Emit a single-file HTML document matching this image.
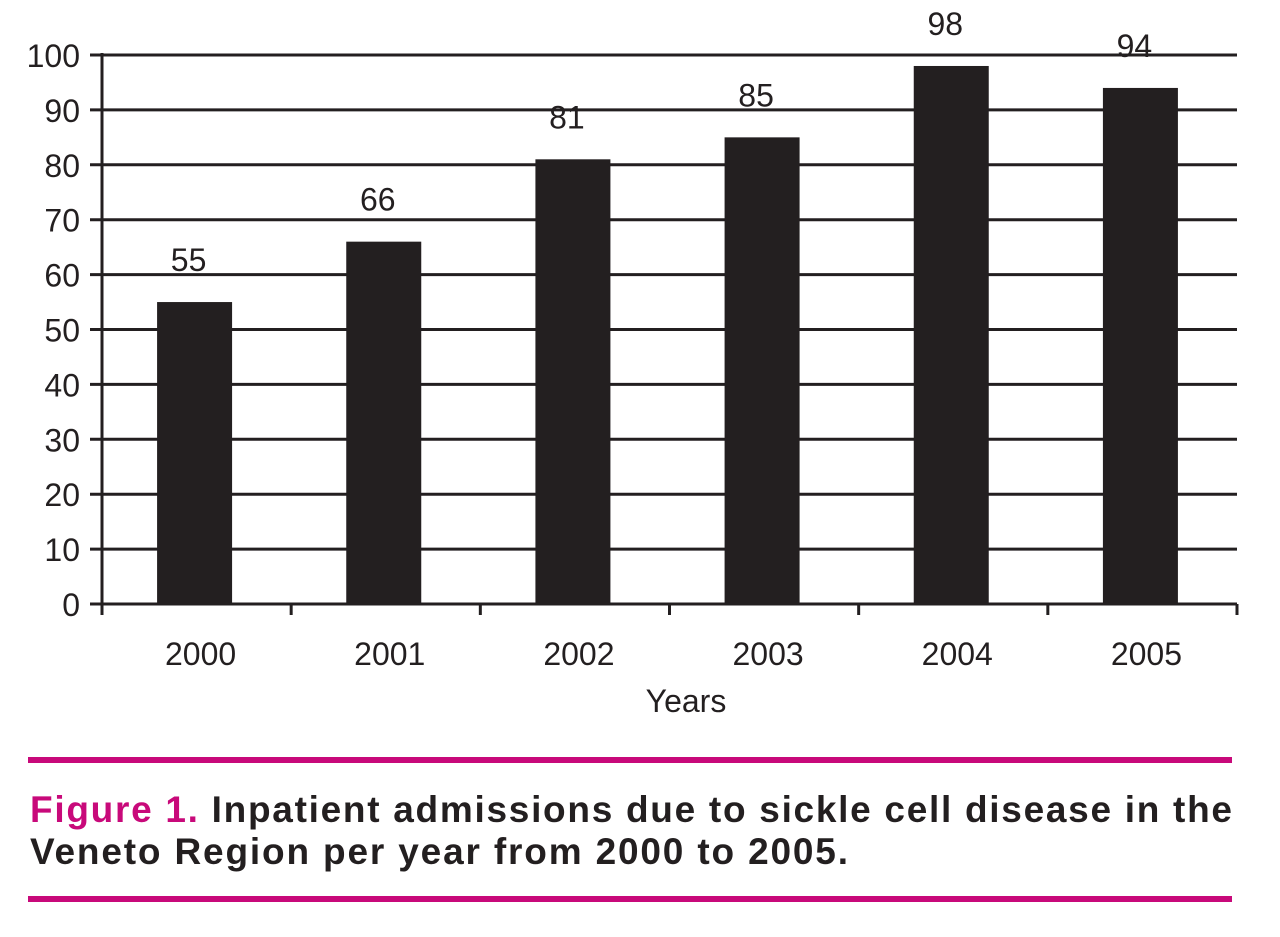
<!DOCTYPE html>
<html><head><meta charset="utf-8"><style>
html,body{margin:0;padding:0;background:#fff;}
svg{display:block;}
text{font-family:"Liberation Sans Narrow","Liberation Sans",sans-serif;fill:#231f20;}
.cap{font-family:"Liberation Sans",sans-serif;font-weight:bold;font-size:37px;}
</style></head><body>
<svg id="chart" width="1280" height="937" viewBox="0 0 1280 937" xmlns="http://www.w3.org/2000/svg">
<g id="grid"></g><g id="bars"></g><g id="axes"></g>
<rect x="28" y="757" width="1204" height="6" fill="#c8097a"/>
<text class="cap" x="30" y="822" textLength="1202" lengthAdjust="spacing"><tspan fill="#c8097a" style="fill:#c8097a">Figure 1.</tspan> Inpatient admissions due to sickle cell disease in the</text>
<text class="cap" x="30" y="864" textLength="818" lengthAdjust="spacing">Veneto Region per year from 2000 to 2005.</text>
<rect x="28" y="896" width="1204" height="6" fill="#c8097a"/>
</svg>
<script>
const categories = ["2000","2001","2002","2003","2004","2005"];
const values = [55,66,81,85,98,94];
const yTicks = [0,10,20,30,40,50,60,70,80,90,100];
const NS="http://www.w3.org/2000/svg";
const x0=102,x1=1237,y0=604,y100=55;
const yS=v=>y0-(v/100)*(y0-y100);
const bw=(x1-x0)/categories.length;
const xC=i=>x0+bw*(i+0.5);
function mk(t,a,p){const e=document.createElementNS(NS,t);for(const k in a)e.setAttribute(k,a[k]);p.appendChild(e);return e;}
const grid=document.getElementById('grid'),bars=document.getElementById('bars'),axes=document.getElementById('axes');
yTicks.forEach(v=>{
  const l=mk('line',{x1:90,x2:x1,y1:yS(v),y2:yS(v),stroke:'#231f20','stroke-width':3},grid);
  
  
  const t=mk('text',{x:80,y:yS(v)+12,'text-anchor':'end','font-size':32},axes);
  t.textContent=v;
  
  
});
categories.forEach((c,i)=>{
  const r=mk('rect',{x:xC(i)-39.5,y:yS(values[i]),width:75,height:y0-yS(values[i]),fill:'#231f20'},bars);
  
  
  const vl=mk('text',{x:xC(i)-8,y:yS(values[i])-31,'text-anchor':'middle','font-size':32},bars);
  vl.textContent=values[i];
  
  
  const xl=mk('text',{x:xC(i)+4,y:665,'text-anchor':'middle','font-size':32},axes);
  xl.textContent=c;
  
  
});
for(let i=0;i<=categories.length;i++){
  const tk=mk('line',{x1:x0+bw*i,x2:x0+bw*i,y1:y0,y2:615,stroke:'#231f20','stroke-width':3},axes);
  
  
}
const ya=mk('line',{x1:x0,x2:x0,y1:y100-2,y2:615,stroke:'#231f20','stroke-width':3},axes);


const xt=mk('text',{x:686,y:712,'text-anchor':'middle','font-size':32},axes);
xt.textContent='Years';


</script>
</body></html>
